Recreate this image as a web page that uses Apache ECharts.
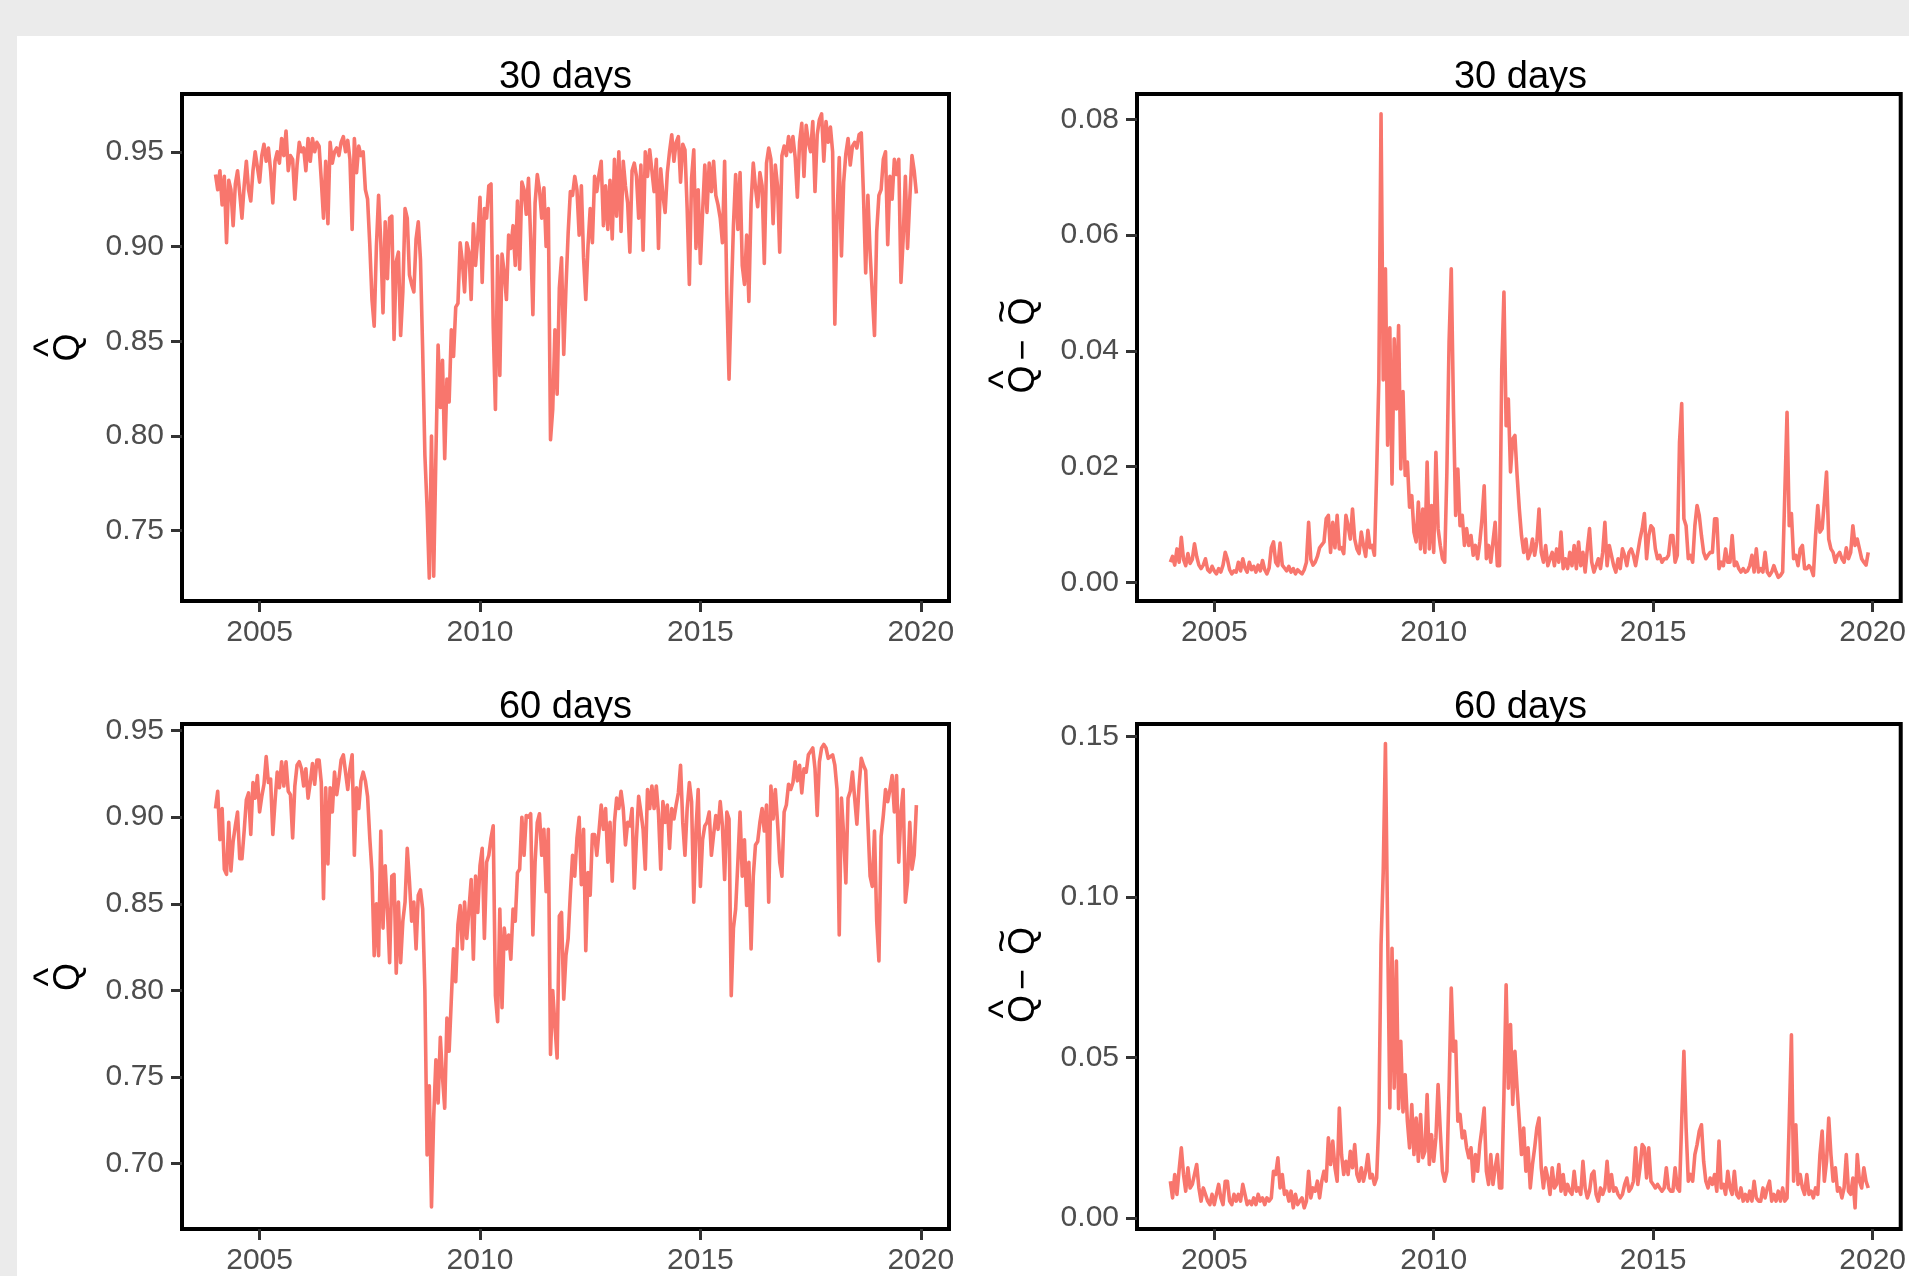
<!DOCTYPE html>
<html>
<head>
<meta charset="utf-8">
<script src="https://cdn.jsdelivr.net/npm/echarts@6/dist/echarts.min.js"></script>
<style>
html,body{margin:0;padding:0;background:#ebebeb;width:1909px;height:1276px;overflow:hidden}
#c{position:absolute;left:17px;top:36px;width:1892px;height:1240px;background:#fff}
</style>
</head>
<body>
<div id="c"></div>
<script>
// ---- data ----
const panelTitles = ['30 days', '30 days', '60 days', '60 days'];
const xTickYears = [2005, 2010, 2015, 2020];
const yTicksHat30 = [0.75, 0.80, 0.85, 0.90, 0.95];
const yTicksDiff30 = [0.00, 0.02, 0.04, 0.06, 0.08];
const yTicksHat60 = [0.70, 0.75, 0.80, 0.85, 0.90, 0.95];
const yTicksDiff60 = [0.00, 0.05, 0.10, 0.15];

// observation dates: every 0.05 year from 2004.00 to 2019.90
const firstYear = 2004.0;
const yearStep = 0.05;

const qHat30 = [
0.938,0.930,0.940,0.922,0.937,0.902,0.935,0.930,0.911,0.933,
0.940,0.928,0.915,0.932,0.945,0.930,0.924,0.940,0.950,0.942,
0.934,0.948,0.954,0.945,0.952,0.940,0.923,0.945,0.950,0.944,
0.957,0.948,0.961,0.940,0.948,0.946,0.925,0.943,0.955,0.950,
0.952,0.940,0.957,0.945,0.957,0.950,0.955,0.953,0.935,0.915,
0.945,0.912,0.955,0.944,0.950,0.952,0.948,0.955,0.958,0.950,
0.956,0.946,0.909,0.957,0.939,0.953,0.948,0.950,0.930,0.925,
0.901,0.872,0.858,0.900,0.927,0.902,0.865,0.913,0.883,0.915,
0.916,0.851,0.892,0.897,0.853,0.876,0.920,0.915,0.885,0.880,
0.876,0.904,0.913,0.893,0.845,0.790,0.762,0.725,0.800,0.726,
0.790,0.848,0.815,0.840,0.788,0.830,0.818,0.856,0.842,0.868,
0.870,0.902,0.892,0.876,0.902,0.897,0.872,0.912,0.890,0.905,
0.926,0.881,0.920,0.915,0.932,0.933,0.858,0.814,0.895,0.832,
0.896,0.886,0.872,0.906,0.899,0.911,0.890,0.924,0.888,0.934,
0.930,0.917,0.936,0.904,0.864,0.923,0.938,0.930,0.915,0.931,
0.900,0.920,0.798,0.814,0.856,0.822,0.878,0.894,0.843,0.878,
0.907,0.929,0.927,0.937,0.930,0.906,0.932,0.894,0.872,0.900,
0.920,0.902,0.937,0.929,0.938,0.945,0.911,0.932,0.909,0.935,
0.904,0.946,0.916,0.950,0.908,0.945,0.932,0.923,0.897,0.940,
0.944,0.937,0.915,0.943,0.898,0.950,0.937,0.951,0.940,0.929,
0.946,0.899,0.941,0.927,0.918,0.939,0.950,0.959,0.945,0.955,
0.958,0.934,0.954,0.951,0.920,0.880,0.936,0.951,0.899,0.930,
0.891,0.918,0.943,0.918,0.944,0.929,0.945,0.927,0.922,0.915,
0.902,0.945,0.875,0.830,0.872,0.911,0.938,0.909,0.939,0.890,
0.880,0.906,0.871,0.923,0.944,0.931,0.921,0.939,0.932,0.891,
0.944,0.952,0.946,0.912,0.943,0.932,0.897,0.948,0.953,0.948,
0.958,0.950,0.958,0.947,0.926,0.955,0.965,0.937,0.964,0.955,
0.950,0.966,0.929,0.959,0.967,0.970,0.945,0.966,0.955,0.963,
0.950,0.859,0.916,0.947,0.895,0.934,0.949,0.957,0.943,0.953,
0.955,0.952,0.959,0.960,0.927,0.886,0.927,0.897,0.875,0.853,
0.908,0.927,0.930,0.946,0.950,0.901,0.937,0.925,0.946,0.938,
0.946,0.881,0.904,0.937,0.899,0.925,0.948,0.940,0.928
];

const qDiff30 = [
0.0035,0.0045,0.0030,0.0058,0.0035,0.0078,0.0040,0.0029,0.0050,0.0033,
0.0040,0.0067,0.0045,0.0030,0.0024,0.0030,0.0041,0.0022,0.0018,0.0028,
0.0020,0.0015,0.0024,0.0018,0.0030,0.0052,0.0040,0.0022,0.0015,0.0020,
0.0018,0.0035,0.0020,0.0041,0.0025,0.0018,0.0035,0.0022,0.0028,0.0018,
0.0030,0.0020,0.0038,0.0022,0.0015,0.0025,0.0060,0.0070,0.0035,0.0029,
0.0068,0.0030,0.0025,0.0020,0.0028,0.0018,0.0024,0.0015,0.0022,0.0018,
0.0015,0.0022,0.0035,0.0104,0.0040,0.0030,0.0035,0.0045,0.0060,0.0065,
0.0070,0.0110,0.0116,0.0052,0.0104,0.0060,0.0116,0.0058,0.0060,0.0050,
0.0116,0.0098,0.0075,0.0127,0.0075,0.0058,0.0050,0.0087,0.0064,0.0045,
0.0090,0.0060,0.0064,0.0047,0.0190,0.0350,0.0810,0.0350,0.0542,0.0237,
0.0440,0.0170,0.0421,0.0300,0.0444,0.0196,0.0330,0.0185,0.0208,0.0130,
0.0150,0.0087,0.0070,0.0139,0.0058,0.0127,0.0052,0.0208,0.0058,0.0133,
0.0052,0.0225,0.0093,0.0064,0.0041,0.0035,0.0191,0.0415,0.0542,0.0300,
0.0116,0.0196,0.0098,0.0116,0.0064,0.0093,0.0064,0.0081,0.0047,0.0064,
0.0041,0.0070,0.0110,0.0167,0.0041,0.0064,0.0035,0.0070,0.0104,0.0029,
0.0029,0.0369,0.0502,0.0271,0.0317,0.0191,0.0248,0.0254,0.0185,0.0127,
0.0081,0.0052,0.0075,0.0041,0.0052,0.0075,0.0047,0.0070,0.0127,0.0052,
0.0035,0.0064,0.0029,0.0041,0.0052,0.0029,0.0058,0.0035,0.0087,0.0024,
0.0041,0.0024,0.0052,0.0029,0.0064,0.0024,0.0070,0.0029,0.0052,0.0018,
0.0058,0.0093,0.0035,0.0018,0.0029,0.0041,0.0024,0.0052,0.0104,0.0029,
0.0064,0.0047,0.0029,0.0018,0.0041,0.0024,0.0058,0.0047,0.0029,0.0052,
0.0058,0.0047,0.0029,0.0052,0.0075,0.0093,0.0119,0.0041,0.0081,0.0098,
0.0093,0.0058,0.0041,0.0047,0.0035,0.0041,0.0041,0.0047,0.0081,0.0081,
0.0035,0.0047,0.0242,0.0309,0.0110,0.0098,0.0041,0.0047,0.0035,0.0098,
0.0133,0.0116,0.0081,0.0052,0.0041,0.0047,0.0052,0.0052,0.0110,0.0110,
0.0024,0.0035,0.0029,0.0058,0.0035,0.0035,0.0081,0.0029,0.0035,0.0024,
0.0018,0.0024,0.0018,0.0020,0.0029,0.0047,0.0018,0.0058,0.0018,0.0024,
0.0018,0.0052,0.0018,0.0012,0.0018,0.0029,0.0018,0.0009,0.0012,0.0018,
0.0156,0.0294,0.0098,0.0119,0.0041,0.0047,0.0029,0.0058,0.0064,0.0024,
0.0024,0.0029,0.0024,0.0012,0.0081,0.0133,0.0087,0.0093,0.0140,0.0191,
0.0075,0.0058,0.0052,0.0035,0.0047,0.0052,0.0041,0.0035,0.0060,0.0041,
0.0052,0.0098,0.0064,0.0075,0.0058,0.0041,0.0035,0.0030,0.0052
];

const qHat60 = [
0.905,0.915,0.887,0.905,0.870,0.867,0.897,0.869,0.886,0.895,
0.903,0.876,0.876,0.892,0.910,0.914,0.890,0.920,0.911,0.924,
0.903,0.912,0.919,0.935,0.920,0.922,0.890,0.909,0.926,0.917,
0.932,0.918,0.932,0.915,0.913,0.888,0.918,0.930,0.932,0.928,
0.918,0.928,0.911,0.920,0.931,0.919,0.933,0.933,0.920,0.853,
0.917,0.873,0.917,0.903,0.926,0.913,0.922,0.933,0.936,0.926,
0.916,0.928,0.936,0.878,0.917,0.905,0.921,0.926,0.921,0.912,
0.888,0.868,0.820,0.850,0.820,0.892,0.836,0.872,0.847,0.816,
0.866,0.867,0.810,0.851,0.816,0.840,0.851,0.882,0.863,0.840,
0.851,0.824,0.855,0.858,0.847,0.800,0.705,0.745,0.675,0.727,
0.760,0.735,0.773,0.750,0.732,0.784,0.765,0.795,0.824,0.805,
0.838,0.849,0.824,0.851,0.830,0.847,0.864,0.818,0.866,0.845,
0.872,0.882,0.830,0.874,0.878,0.888,0.895,0.797,0.782,0.847,
0.790,0.836,0.824,0.832,0.818,0.847,0.840,0.868,0.870,0.900,
0.878,0.901,0.900,0.902,0.832,0.874,0.897,0.902,0.878,0.893,
0.857,0.893,0.763,0.800,0.780,0.761,0.843,0.845,0.795,0.820,
0.830,0.856,0.878,0.866,0.888,0.900,0.861,0.893,0.823,0.868,
0.855,0.890,0.890,0.878,0.892,0.907,0.893,0.905,0.874,0.897,
0.863,0.897,0.911,0.905,0.915,0.905,0.884,0.897,0.895,0.905,
0.859,0.888,0.912,0.903,0.893,0.870,0.916,0.905,0.918,0.905,
0.918,0.902,0.870,0.909,0.897,0.907,0.882,0.905,0.899,0.907,
0.914,0.930,0.897,0.878,0.905,0.920,0.909,0.851,0.893,0.916,
0.860,0.887,0.895,0.897,0.903,0.878,0.890,0.901,0.893,0.909,
0.895,0.864,0.903,0.899,0.797,0.836,0.847,0.874,0.903,0.866,
0.887,0.849,0.874,0.824,0.866,0.884,0.886,0.897,0.905,0.892,
0.907,0.851,0.918,0.899,0.916,0.897,0.874,0.866,0.903,0.907,
0.919,0.916,0.920,0.932,0.921,0.930,0.914,0.928,0.926,0.936,
0.938,0.940,0.928,0.901,0.932,0.940,0.942,0.940,0.934,0.935,
0.936,0.930,0.916,0.832,0.911,0.890,0.862,0.911,0.915,0.926,
0.911,0.896,0.918,0.934,0.930,0.927,0.897,0.866,0.860,0.892,
0.840,0.817,0.889,0.901,0.916,0.909,0.916,0.924,0.903,0.924,
0.874,0.903,0.916,0.851,0.863,0.897,0.870,0.878,0.907
];

const qDiff60 = [
0.0114,0.0062,0.0135,0.0073,0.0150,0.0218,0.0135,0.0083,0.0156,0.0093,
0.0104,0.0135,0.0166,0.0093,0.0052,0.0093,0.0073,0.0052,0.0041,0.0073,
0.0041,0.0073,0.0104,0.0062,0.0041,0.0114,0.0114,0.0052,0.0041,0.0073,
0.0052,0.0073,0.0052,0.0104,0.0073,0.0041,0.0052,0.0041,0.0062,0.0041,
0.0073,0.0052,0.0062,0.0041,0.0062,0.0052,0.0062,0.0145,0.0135,0.0187,
0.0093,0.0135,0.0073,0.0083,0.0052,0.0083,0.0031,0.0073,0.0041,0.0052,
0.0062,0.0031,0.0052,0.0145,0.0062,0.0093,0.0083,0.0114,0.0062,0.0114,
0.0145,0.0114,0.0249,0.0166,0.0239,0.0156,0.0114,0.0342,0.0197,0.0135,
0.0176,0.0135,0.0207,0.0156,0.0228,0.0135,0.0114,0.0156,0.0114,0.0145,
0.0197,0.0124,0.0135,0.0104,0.0124,0.0301,0.0850,0.1079,0.1478,0.0900,
0.0342,0.0840,0.0404,0.0800,0.0340,0.0550,0.0330,0.0446,0.0301,0.0218,
0.0353,0.0197,0.0311,0.0176,0.0322,0.0187,0.0207,0.0384,0.0166,0.0259,
0.0176,0.0249,0.0415,0.0270,0.0145,0.0114,0.0145,0.0404,0.0716,0.0519,
0.0550,0.0301,0.0322,0.0249,0.0270,0.0218,0.0187,0.0218,0.0114,0.0197,
0.0145,0.0228,0.0280,0.0342,0.0145,0.0104,0.0197,0.0104,0.0156,0.0197,
0.0093,0.0093,0.0384,0.0726,0.0404,0.0602,0.0353,0.0519,0.0404,0.0301,
0.0197,0.0280,0.0145,0.0218,0.0093,0.0166,0.0218,0.0280,0.0311,0.0156,
0.0093,0.0156,0.0124,0.0073,0.0156,0.0093,0.0104,0.0166,0.0083,0.0135,
0.0073,0.0104,0.0083,0.0073,0.0145,0.0083,0.0093,0.0073,0.0176,0.0093,
0.0062,0.0083,0.0135,0.0145,0.0073,0.0052,0.0093,0.0073,0.0093,0.0176,
0.0083,0.0135,0.0083,0.0093,0.0073,0.0062,0.0073,0.0104,0.0124,0.0083,
0.0093,0.0114,0.0218,0.0104,0.0156,0.0228,0.0218,0.0124,0.0218,0.0114,
0.0104,0.0093,0.0104,0.0093,0.0083,0.0093,0.0156,0.0093,0.0083,0.0083,
0.0156,0.0093,0.0083,0.0300,0.0519,0.0280,0.0114,0.0135,0.0114,0.0197,
0.0228,0.0270,0.0290,0.0176,0.0114,0.0093,0.0124,0.0104,0.0135,0.0083,
0.0239,0.0093,0.0104,0.0073,0.0145,0.0093,0.0073,0.0145,0.0073,0.0062,
0.0093,0.0052,0.0073,0.0052,0.0083,0.0052,0.0114,0.0062,0.0052,0.0052,
0.0093,0.0062,0.0093,0.0114,0.0052,0.0073,0.0052,0.0083,0.0052,0.0093,
0.0052,0.0062,0.0300,0.0570,0.0114,0.0290,0.0104,0.0135,0.0093,0.0073,
0.0135,0.0073,0.0083,0.0062,0.0093,0.0073,0.0197,0.0270,0.0114,0.0176,
0.0311,0.0197,0.0114,0.0156,0.0083,0.0093,0.0062,0.0093,0.0197,0.0083,
0.0073,0.0124,0.0031,0.0197,0.0114,0.0093,0.0156,0.0114,0.0093
];

// ---- chart ----
const FONT = '"Liberation Sans", Arial, Helvetica, sans-serif';
const LINE = '#F8766D';

const seriesValues = [qHat30, qDiff30, qHat60, qDiff60];
const yTicks = [yTicksHat30, yTicksDiff30, yTicksHat60, yTicksDiff60];
const yRanges = [[0.7129, 0.9805], [-0.0032, 0.0844], [0.6623, 0.9538], [-0.0035, 0.1539]];
const xRange = [2003.24, 2020.64];

const grids = [
  {left: 165, top: 58, width: 767, height: 507},
  {left: 1120, top: 58, width: 767, height: 507},
  {left: 165, top: 688, width: 767, height: 506},
  {left: 1120, top: 688, width: 767, height: 506}
];

const dates = seriesValues[0].map((_, i) => +(firstYear + i * yearStep).toFixed(2));

// y-axis titles (plotmath-like): glyphs placed in a rotated group.
// b = baseline offset (negative = further from the axis), x = offset along the axis
const hatLabel = [
  {t: 'Q', x: 0, b: 0, fs: 36},
  {t: '^', x: 0, b: -17.8, fs: 40}
];
const diffLabel = [
  {t: 'Q', x: -32, b: 0, fs: 36},
  {t: '^', x: -32, b: -17.8, fs: 40},
  {t: '\u2212', x: -2.5, b: 0, fs: 36},
  {t: 'Q', x: 36, b: 0, fs: 36},
  {t: '~', x: 36, b: -19.2, fs: 40}
];
const yLabelParts = [hatLabel, diffLabel, hatLabel, diffLabel];

function yTitle(k) {
  const g = grids[k];
  return {
    type: 'group',
    x: g.left - 100,
    y: g.top + g.height / 2,
    rotation: Math.PI / 2,
    children: yLabelParts[k].map(p => ({
      type: 'text',
      x: p.x,
      y: p.b - 0.3465 * p.fs,
      style: {
        text: p.t, fill: '#000000', font: p.fs + 'px ' + FONT,
        align: 'center', verticalAlign: 'middle',
        textAlign: 'center', textVerticalAlign: 'middle'
      }
    }))
  };
}

const option = {
  animation: false,
  backgroundColor: '#ffffff',
  grid: grids.map(g => Object.assign({
    show: true, borderColor: '#000000', borderWidth: 4, backgroundColor: 'transparent',
    containLabel: false
  }, g)),
  xAxis: grids.map((g, k) => ({
    type: 'value', gridIndex: k, min: xRange[0], max: xRange[1],
    axisLine: {show: false, onZero: false},
    splitLine: {show: false},
    axisTick: {show: true, length: 11, inside: false, customValues: xTickYears,
      lineStyle: {color: '#333333', width: 3}},
    axisLabel: {show: true, customValues: xTickYears, margin: 17,
      color: '#4D4D4D', fontSize: 30, fontFamily: FONT,
      formatter: v => String(Math.round(v))}
  })),
  yAxis: grids.map((g, k) => ({
    type: 'value', gridIndex: k, min: yRanges[k][0], max: yRanges[k][1],
    axisLine: {show: false, onZero: false},
    splitLine: {show: false},
    axisTick: {show: true, length: 11, inside: false, customValues: yTicks[k],
      lineStyle: {color: '#333333', width: 3}},
    axisLabel: {show: true, customValues: yTicks[k], margin: 18,
      padding: [5, 0, 0, 0],
      color: '#4D4D4D', fontSize: 30, fontFamily: FONT,
      formatter: v => v.toFixed(2)}
  })),
  series: seriesValues.map((vals, k) => ({
    type: 'line', xAxisIndex: k, yAxisIndex: k,
    data: vals.map((v, i) => [dates[i], v]),
    showSymbol: false, symbol: 'none', smooth: false,
    lineStyle: {color: LINE, width: 3.6, join: 'round'},
    itemStyle: {color: LINE},
    clip: true
  })),
  graphic: panelTitles.map((t, k) => ({
    type: 'text',
    x: grids[k].left + grids[k].width / 2,
    y: grids[k].top - 16,
    style: {
      text: t, fill: '#000000', font: '38px ' + FONT,
      align: 'center', verticalAlign: 'middle',
      textAlign: 'center', textVerticalAlign: 'middle'
    }
  })).concat(grids.map((g, k) => yTitle(k)))
};

const chart = echarts.init(document.getElementById('c'), null, {renderer: 'canvas'});
chart.setOption(option);
</script>
</body>
</html>
